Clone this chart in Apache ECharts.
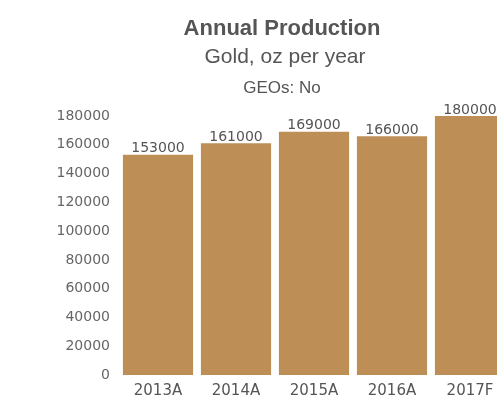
<!DOCTYPE html>
<html>
<head>
<meta charset="utf-8">
<script src="https://cdn.jsdelivr.net/npm/echarts@6/dist/echarts.min.js"></script>
<style>
  html, body { margin: 0; padding: 0; background: #fff; overflow: hidden; width: 497px; height: 400px; }
  /* canvas is wider than the window so the last bar is cut at the right edge */
  #chart { width: 509px; height: 400px; }
</style>
</head>
<body>
<div id="chart"></div>
<script>
// Annual gold production by year (A = actual, F = forecast)
const years = ['2013A', '2014A', '2015A', '2016A', '2017F'];
const production = [153000, 161000, 169000, 166000, 180000];
const yTicks = [0, 20000, 40000, 60000, 80000, 100000, 120000, 140000, 160000, 180000];

const titleFont = 'Liberation Sans, Arial, Helvetica, sans-serif';
const labelFont = 'DejaVu Sans, sans-serif';
const chart = echarts.init(document.getElementById('chart'));

chart.setOption({
  backgroundColor: '#ffffff',
  animation: false,
  title: [
    { text: 'Annual Production', left: 277, textAlign: 'center', top: 13,
      textStyle: { fontFamily: titleFont, fontSize: 22, fontWeight: 'bold', color: '#555' } },
    { text: 'Gold, oz per year', left: 280, textAlign: 'center', top: 42,
      textStyle: { fontFamily: titleFont, fontSize: 21, fontWeight: 'normal', color: '#555' } },
    { text: 'GEOs: No', left: 277, textAlign: 'center', top: 75,
      textStyle: { fontFamily: titleFont, fontSize: 17, fontWeight: 'normal', color: '#555' } }
  ],
  grid: { left: 119, right: 0, top: 116, bottom: 25 },
  xAxis: {
    type: 'category',
    data: years,
    axisLine: { show: false },
    axisTick: { show: false },
    axisLabel: { color: '#555', fontFamily: labelFont, fontSize: 15, margin: 9 }
  },
  yAxis: {
    type: 'value',
    min: yTicks[0],
    max: yTicks[yTicks.length - 1],
    interval: yTicks[1] - yTicks[0],
    splitLine: { show: false },
    axisLine: { show: false },
    axisTick: { show: false },
    axisLabel: {
      color: '#666', fontFamily: labelFont, fontSize: 14, margin: 9,
      formatter: v => String(v)
    }
  },
  series: [{
    type: 'bar',
    data: production,
    barCategoryGap: '10%',
    itemStyle: { color: '#bd8f56' },
    label: {
      show: true,
      position: 'top',
      distance: -1,
      color: '#555',
      fontFamily: labelFont,
      fontSize: 14
    }
  }]
});
</script>
</body>
</html>
